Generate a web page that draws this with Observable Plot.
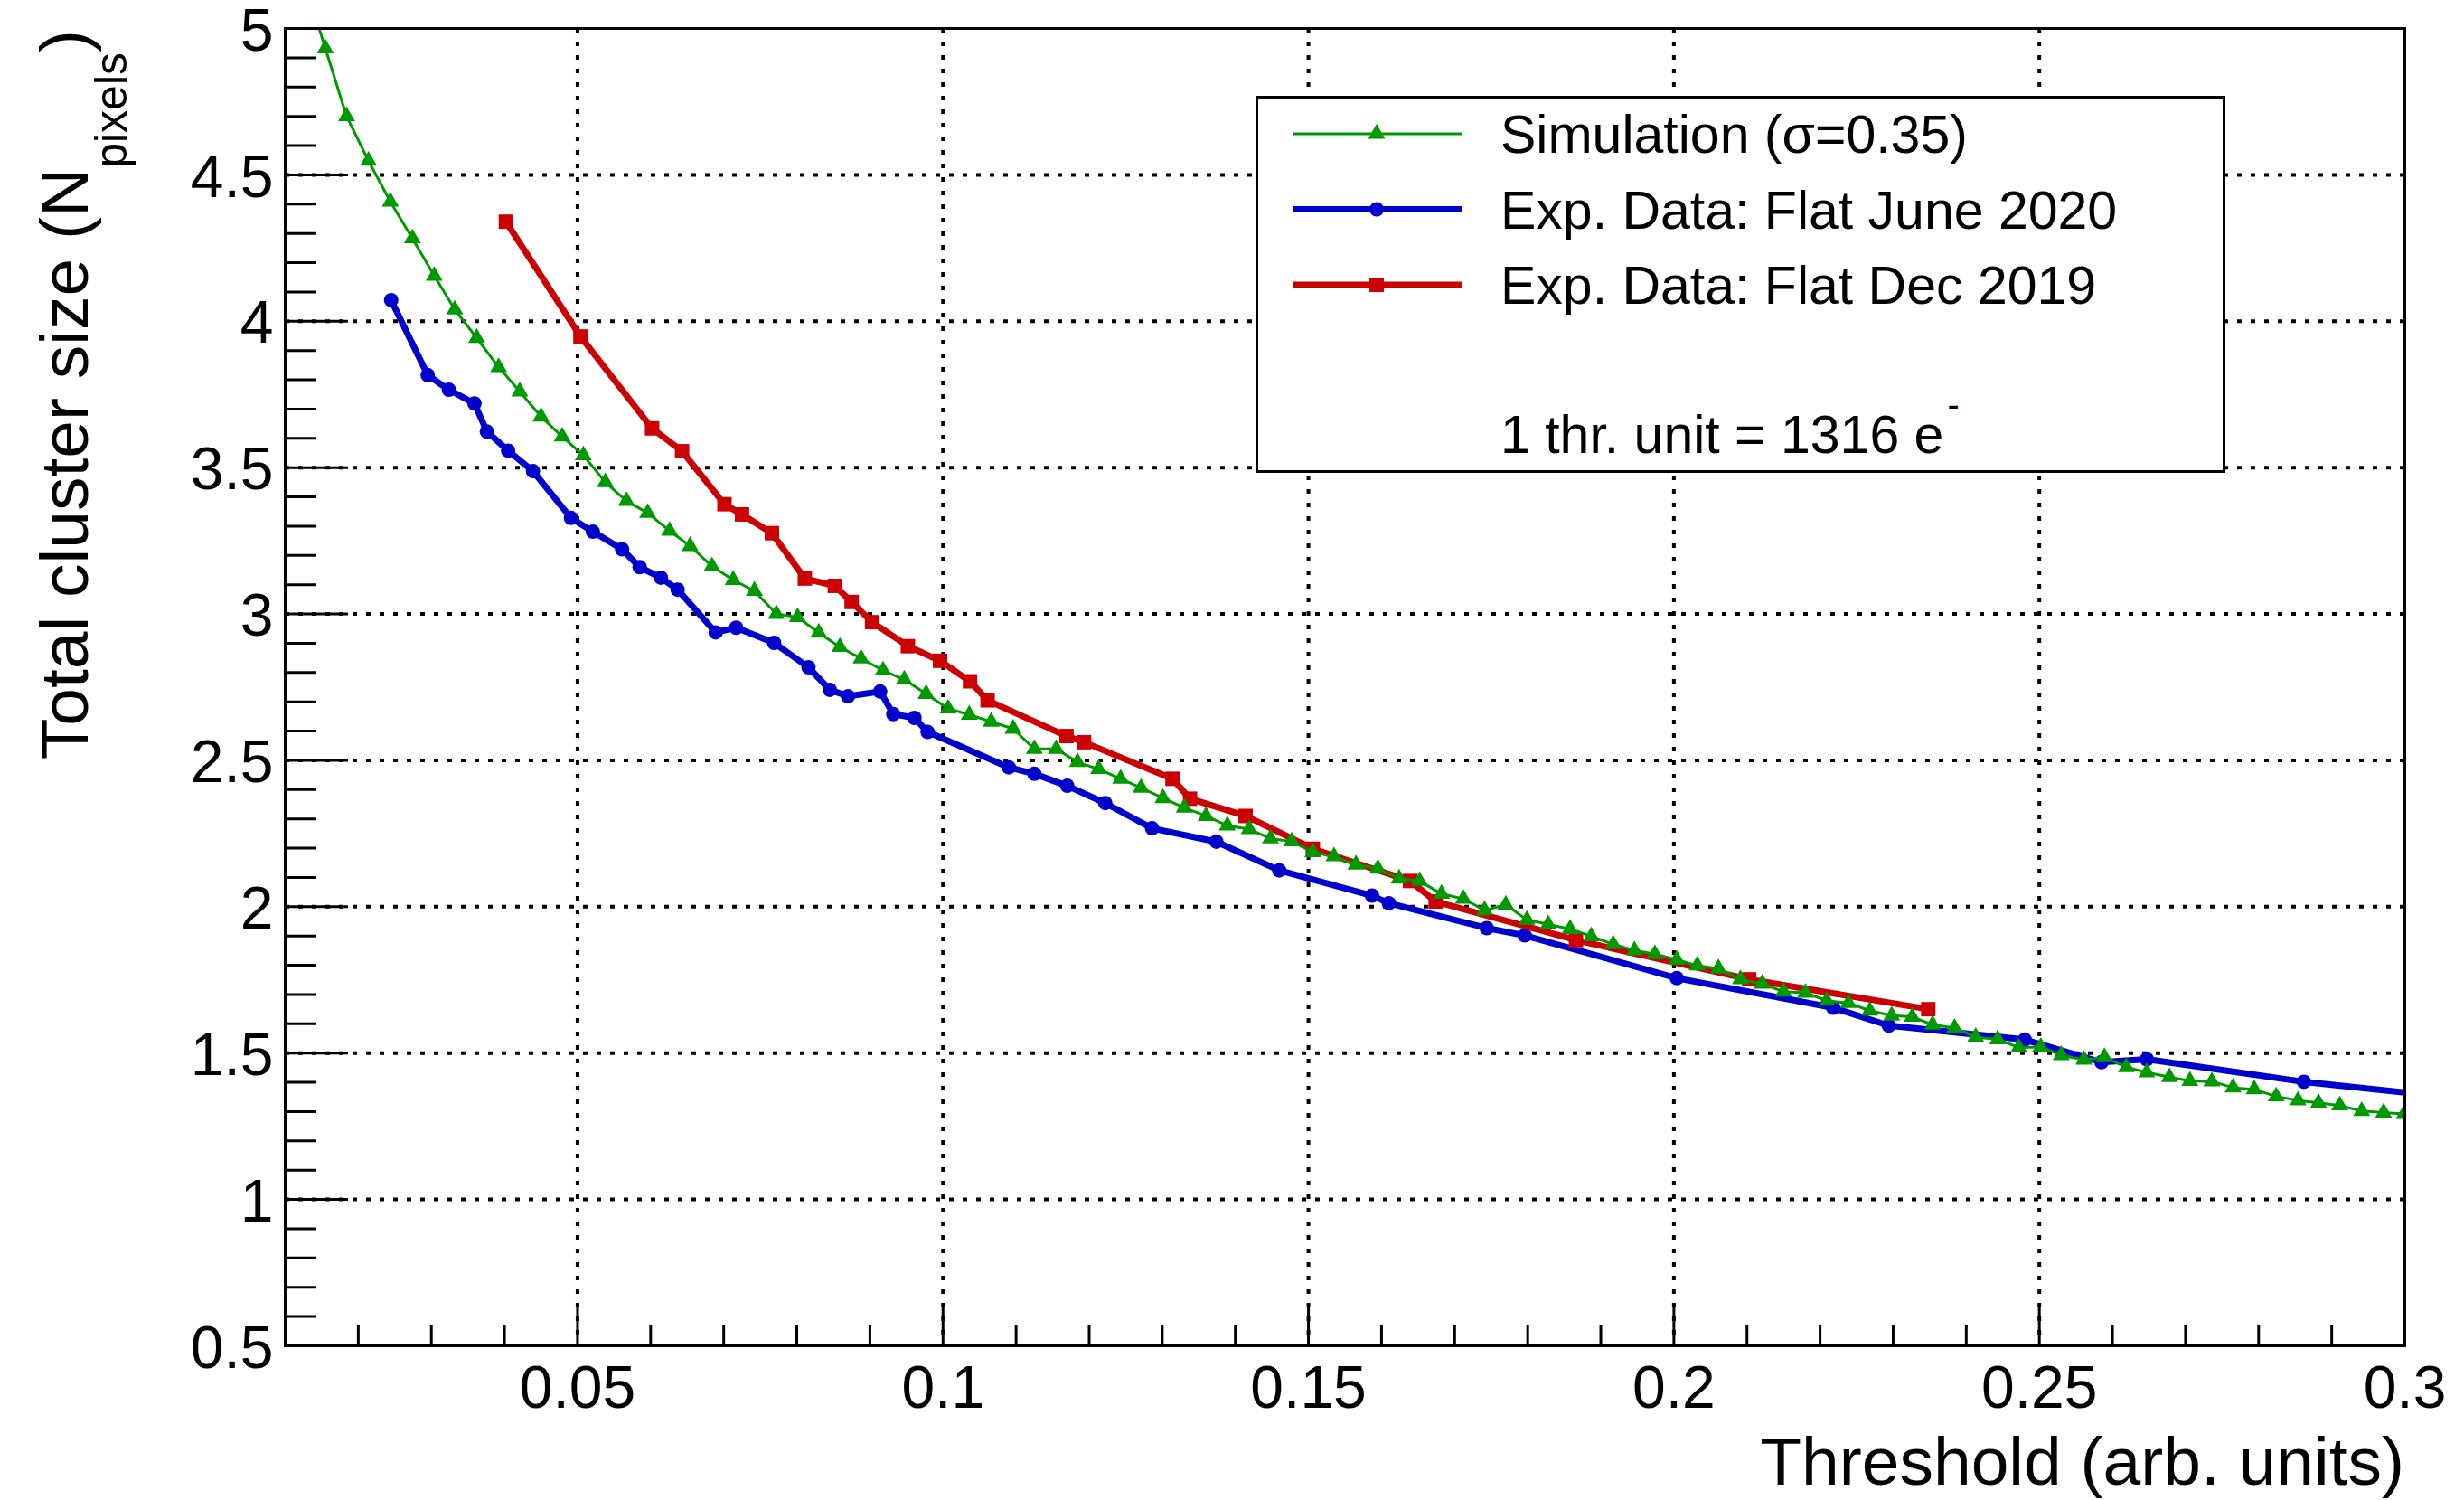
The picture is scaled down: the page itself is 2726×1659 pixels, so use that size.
<!DOCTYPE html>
<html>
<head>
<meta charset="utf-8">
<script src="https://cdn.jsdelivr.net/npm/d3@7"></script>
<script src="https://cdn.jsdelivr.net/npm/@observablehq/plot@0.6"></script>
<style>
  html, body { margin: 0; padding: 0; background: #fff; }
  #wrap { position: relative; width: 2726px; height: 1659px; overflow: hidden; }
  #wrap svg { display: block; }
  #legend { position: absolute; left: 1389px; top: 106px; }
</style>
</head>
<body>
<div id="wrap"></div>
<script>
// ---------- data ----------
const simX = [0.0125, 0.0155, 0.0184, 0.0214, 0.0244, 0.0274, 0.0304, 0.0332, 0.0362, 0.0392,
  0.0421, 0.0450, 0.0479, 0.0508, 0.0538, 0.0567, 0.0596, 0.0626, 0.0654, 0.0684,
  0.0713, 0.0742, 0.0772, 0.0801, 0.0830, 0.0859, 0.0888, 0.0918, 0.0947, 0.0977,
  0.1007, 0.1036, 0.1066, 0.1096, 0.1125, 0.1155, 0.1184, 0.1213, 0.1243, 0.1271,
  0.1301, 0.1330, 0.1360, 0.1389, 0.1419, 0.1448, 0.1477, 0.1506, 0.1535, 0.1565,
  0.1595, 0.1624, 0.1652, 0.1682, 0.1712, 0.1741, 0.1770, 0.1799, 0.1828, 0.1858,
  0.1887, 0.1917, 0.1946, 0.1974, 0.2004, 0.2032, 0.2061, 0.2091, 0.2121, 0.2150,
  0.2180, 0.2209, 0.2239, 0.2268, 0.2298, 0.2326, 0.2354, 0.2384, 0.2413, 0.2443,
  0.2472, 0.2502, 0.2530, 0.2561, 0.2589, 0.2619, 0.2647, 0.2678, 0.2706, 0.2736,
  0.2765, 0.2794, 0.2824, 0.2854, 0.2882, 0.2911, 0.2941, 0.2971, 0.2999];
const simY = [5.17, 4.932, 4.700, 4.548, 4.408, 4.283, 4.155, 4.040, 3.943, 3.843,
  3.760, 3.674, 3.606, 3.542, 3.450, 3.386, 3.345, 3.284, 3.232, 3.163,
  3.116, 3.079, 3.000, 2.989, 2.936, 2.887, 2.848, 2.807, 2.776, 2.727,
  2.677, 2.656, 2.632, 2.608, 2.539, 2.539, 2.494, 2.470, 2.437, 2.406,
  2.371, 2.338, 2.310, 2.277, 2.265, 2.233, 2.223, 2.186, 2.172, 2.144,
  2.130, 2.096, 2.088, 2.044, 2.027, 1.988, 2.007, 1.955, 1.940, 1.924,
  1.899, 1.872, 1.851, 1.838, 1.819, 1.799, 1.789, 1.752, 1.737, 1.710,
  1.706, 1.679, 1.671, 1.645, 1.628, 1.624, 1.597, 1.586, 1.555, 1.547,
  1.519, 1.521, 1.493, 1.477, 1.486, 1.452, 1.434, 1.418, 1.405, 1.403,
  1.382, 1.376, 1.352, 1.338, 1.330, 1.321, 1.302, 1.297, 1.292];

const juneX = [0.0245, 0.0295, 0.0324, 0.0359, 0.0376, 0.0405, 0.0439, 0.0491, 0.0521, 0.0561,
  0.0585, 0.0614, 0.0637, 0.0689, 0.0717, 0.0769, 0.0816, 0.0845, 0.0870, 0.0914,
  0.0932, 0.0961, 0.0979, 0.1090, 0.1125, 0.1170, 0.1222, 0.1286, 0.1374, 0.1460,
  0.1587, 0.1610, 0.1744, 0.1796, 0.2004, 0.2218, 0.2294, 0.2480, 0.2585, 0.2647,
  0.2862, 0.3070];
const juneY = [4.072, 3.816, 3.766, 3.719, 3.623, 3.558, 3.488, 3.328, 3.281, 3.221,
  3.160, 3.124, 3.083, 2.937, 2.953, 2.901, 2.818, 2.741, 2.719, 2.735,
  2.658, 2.645, 2.597, 2.476, 2.454, 2.413, 2.354, 2.268, 2.222, 2.124,
  2.038, 2.012, 1.927, 1.902, 1.756, 1.655, 1.594, 1.546, 1.469, 1.479,
  1.402, 1.347];

const decX = [0.0402, 0.0504, 0.0602, 0.0643, 0.0701, 0.0725, 0.0766, 0.0811, 0.0852, 0.0875,
  0.0903, 0.0952, 0.0996, 0.1037, 0.1061, 0.1169, 0.1193, 0.1314, 0.1338, 0.1414,
  0.1506, 0.1639, 0.1674, 0.1866, 0.2103, 0.2348];
const decY = [4.340, 3.948, 3.634, 3.556, 3.375, 3.340, 3.276, 3.121, 3.096, 3.041,
  2.972, 2.890, 2.840, 2.770, 2.705, 2.583, 2.562, 2.437, 2.369, 2.310,
  2.198, 2.088, 2.018, 1.886, 1.752, 1.650];

const xMajor = [0.05, 0.1, 0.15, 0.2, 0.25, 0.3];
const xMinor = [0.02, 0.03, 0.04, 0.06, 0.07, 0.08, 0.09, 0.11, 0.12, 0.13, 0.14,
  0.16, 0.17, 0.18, 0.19, 0.21, 0.22, 0.23, 0.24, 0.26, 0.27, 0.28, 0.29];
const yMajor = [0.5, 1, 1.5, 2, 2.5, 3, 3.5, 4, 4.5, 5];
const yMinor = [0.6, 0.7, 0.8, 0.9, 1.1, 1.2, 1.3, 1.4, 1.6, 1.7, 1.8, 1.9,
  2.1, 2.2, 2.3, 2.4, 2.6, 2.7, 2.8, 2.9, 3.1, 3.2, 3.3, 3.4, 3.6, 3.7, 3.8, 3.9,
  4.1, 4.2, 4.3, 4.4, 4.6, 4.7, 4.8, 4.9];

const seriesNames = ["Simulation (\u03C3=0.35)", "Exp. Data: Flat June 2020", "Exp. Data: Flat Dec 2019"];
const noteText = "1 thr. unit = 1316 e";
const xTitle = "Threshold (arb. units)";

// ---------- layout ----------
const W = 2726, H = 1659, mL = 315, mR = 66, mT = 31, mB = 171;
const plotW = W - mL - mR, plotH = H - mT - mB;
const FONT = '"Liberation Sans", Arial, Helvetica, sans-serif';
const GREEN = "#009900", BLUE = "#0000cc", RED = "#cc0000";

const sim = simX.map((x, i) => ({x, y: simY[i]}));
const june = juneX.map((x, i) => ({x, y: juneY[i]}));
const dec = decX.map((x, i) => ({x, y: decY[i]}));

const dotted = {stroke: "black", strokeWidth: 4, strokeDasharray: "5,10"};

const chart = Plot.plot({
  width: W, height: H,
  marginLeft: mL, marginRight: mR, marginTop: mT, marginBottom: mB,
  style: {fontFamily: FONT, background: "white", color: "black", maxWidth: "none"},
  x: {domain: [0.01, 0.3]},
  y: {domain: [0.5, 5]},
  marks: [
    Plot.ruleX(xMajor.filter(d => d < 0.3), {x: d => d, ...dotted}),
    Plot.ruleY(yMajor.filter(d => d > 0.5 && d < 5), {y: d => d, ...dotted}),
    Plot.ruleX(xMajor, {x: d => d, insetTop: plotH - 46, stroke: "black", strokeWidth: 3}),
    Plot.ruleX(xMinor, {x: d => d, insetTop: plotH - 22, stroke: "black", strokeWidth: 3}),
    Plot.ruleY(yMajor, {y: d => d, insetRight: plotW - 70, stroke: "black", strokeWidth: 3}),
    Plot.ruleY(yMinor, {y: d => d, insetRight: plotW - 35, stroke: "black", strokeWidth: 3}),
    Plot.axisX({ticks: xMajor, tickSize: 0, tickPadding: 22, fontSize: 66, tickFormat: d => String(d), label: null}),
    Plot.axisY({ticks: yMajor, tickSize: 0, tickPadding: 13, dy: 3, fontSize: 66, tickFormat: d => String(d), label: null}),
    Plot.line(june, {x: "x", y: "y", stroke: BLUE, strokeWidth: 7, strokeLinejoin: "round", clip: true}),
    Plot.dot(june, {x: "x", y: "y", r: 8, symbol: "circle", fill: BLUE, clip: true}),
    Plot.line(dec, {x: "x", y: "y", stroke: RED, strokeWidth: 7, strokeLinejoin: "round", clip: true}),
    Plot.dot(dec, {x: "x", y: "y", r: 9, symbol: "square", fill: RED, clip: true}),
    Plot.line(sim, {x: "x", y: "y", stroke: GREEN, strokeWidth: 3, strokeLinejoin: "round", clip: true}),
    Plot.dot(sim, {x: "x", y: "y", r: 7, symbol: "triangle", fill: GREEN, clip: true}),
    Plot.frame({stroke: "black", strokeWidth: 3})
  ]
});

document.getElementById("wrap").appendChild(chart);

// axis titles
const svg = d3.select(chart);
svg.append("text")
  .attr("x", W - mR).attr("y", 1642)
  .attr("text-anchor", "end")
  .attr("font-family", FONT).attr("font-size", 75).attr("fill", "black")
  .text(xTitle);

const yt = svg.append("text")
  .attr("transform", "translate(97,33) rotate(-90)")
  .attr("text-anchor", "end")
  .attr("font-family", FONT).attr("font-size", 75).attr("fill", "black");
yt.append("tspan").text("Total cluster size (N");
yt.append("tspan").attr("font-size", 50).attr("dy", 43).text("pixels");
yt.append("tspan").attr("font-size", 75).attr("dy", -43).text(")");

// legend
const LW = 1073, LH = 417;
const leg = d3.select("#wrap").append("svg")
  .attr("id", "legend").attr("width", LW).attr("height", LH)
  .style("font-family", FONT);
leg.append("rect").attr("x", 1.5).attr("y", 1.5).attr("width", LW - 3).attr("height", LH - 3)
  .attr("fill", "white").attr("stroke", "black").attr("stroke-width", 3);

const entries = [
  {name: seriesNames[0], color: GREEN, width: 3, sym: d3.symbolTriangle, r: 7},
  {name: seriesNames[1], color: BLUE, width: 7, sym: d3.symbolCircle, r: 8},
  {name: seriesNames[2], color: RED, width: 7, sym: d3.symbolSquare, r: 9}
];
entries.forEach((e, i) => {
  const cy = 42 + i * 83.5;
  leg.append("line").attr("x1", 41).attr("x2", 228).attr("y1", cy).attr("y2", cy)
    .attr("stroke", e.color).attr("stroke-width", e.width);
  leg.append("path").attr("transform", `translate(134,${cy})`)
    .attr("d", d3.symbol(e.sym, Math.PI * e.r * e.r)()).attr("fill", e.color);
  leg.append("text").attr("x", 271).attr("y", cy + 21)
    .attr("font-size", 59).attr("fill", "black").text(e.name);
});
const note = leg.append("text").attr("x", 271).attr("y", 395)
  .attr("font-size", 59).attr("fill", "black");
note.append("tspan").text(noteText);
note.append("tspan").attr("font-size", 40).attr("dy", -40).attr("dx", 4).text("-");
</script>
</body>
</html>
